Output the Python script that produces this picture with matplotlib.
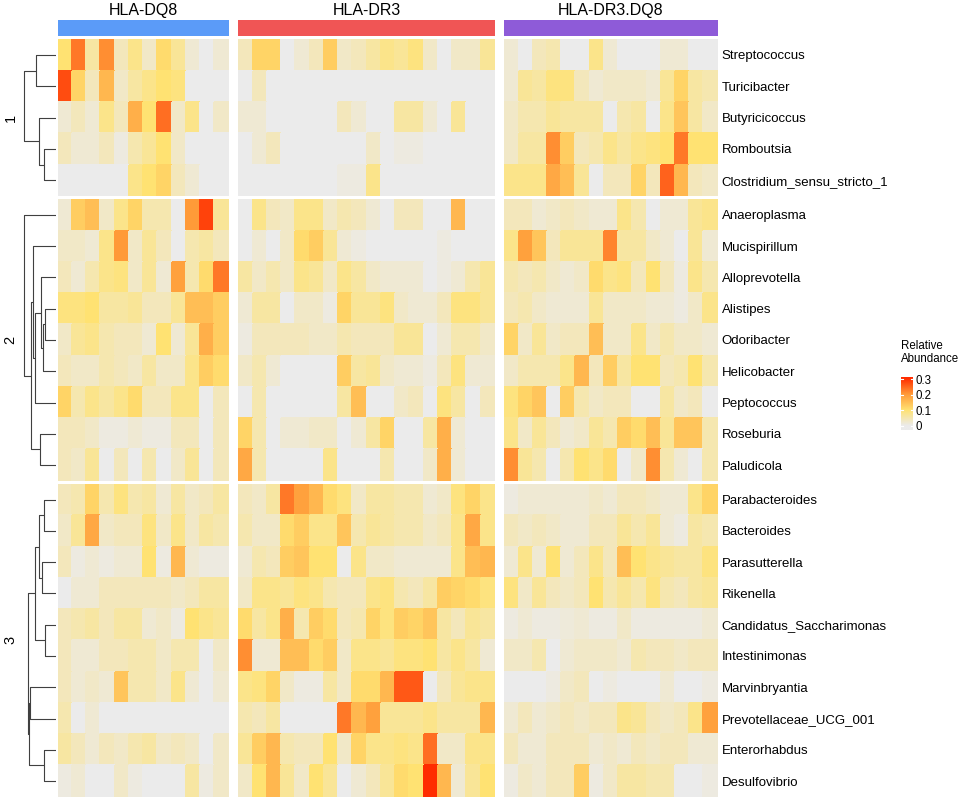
import numpy as np
import matplotlib
matplotlib.use("Agg")
import matplotlib.pyplot as plt
from matplotlib.colors import LinearSegmentedColormap
from matplotlib import rcParams
rcParams['font.family'] = ['Liberation Sans', 'DejaVu Sans']

# ---- data -------------------------------------------------------------
groups = ["HLA-DQ8", "HLA-DR3", "HLA-DR3.DQ8"]
group_colors = ["#5B9BF8", "#F05555", "#8E5BD8"]

species = ["Streptococcus", "Turicibacter", "Butyricicoccus", "Romboutsia",
           "Clostridium_sensu_stricto_1",
           "Anaeroplasma", "Mucispirillum", "Alloprevotella", "Alistipes",
           "Odoribacter", "Helicobacter", "Peptococcus", "Roseburia", "Paludicola",
           "Parabacteroides", "Bacteroides", "Parasutterella", "Rikenella",
           "Candidatus_Saccharimonas", "Intestinimonas", "Marvinbryantia",
           "Prevotellaceae_UCG_001", "Enterorhabdus", "Desulfovibrio"]
row_split = [5, 9, 10]
split_labels = ["1", "2", "3"]

dq8 = [
    [0.10, 0.23, 0.06, 0.21, 0.04, 0.08, 0.03, 0.11, 0.07, 0.02, 0.00, 0.02],
    [0.27, 0.12, 0.04, 0.16, 0.03, 0.06, 0.08, 0.10, 0.09, 0.00, 0.00, 0.00],
    [0.02, 0.04, 0.02, 0.08, 0.04, 0.17, 0.10, 0.24, 0.03, 0.08, 0.00, 0.03],
    [0.04, 0.02, 0.02, 0.04, 0.01, 0.05, 0.07, 0.10, 0.03, 0.00, 0.00, 0.00],
    [0.00, 0.00, 0.00, 0.00, 0.00, 0.08, 0.10, 0.12, 0.04, 0.02, 0.00, 0.00],
    [0.02, 0.13, 0.15, 0.03, 0.08, 0.12, 0.05, 0.05, 0.00, 0.20, 0.28, 0.07],
    [0.03, 0.03, 0.02, 0.08, 0.20, 0.03, 0.07, 0.04, 0.00, 0.05, 0.06, 0.04],
    [0.04, 0.02, 0.05, 0.08, 0.09, 0.03, 0.07, 0.02, 0.19, 0.05, 0.11, 0.23],
    [0.09, 0.09, 0.10, 0.06, 0.06, 0.07, 0.04, 0.04, 0.07, 0.15, 0.15, 0.13],
    [0.03, 0.07, 0.08, 0.05, 0.04, 0.04, 0.02, 0.10, 0.02, 0.07, 0.17, 0.13],
    [0.04, 0.03, 0.03, 0.05, 0.04, 0.03, 0.06, 0.03, 0.03, 0.08, 0.13, 0.11],
    [0.12, 0.05, 0.08, 0.06, 0.08, 0.11, 0.04, 0.04, 0.08, 0.08, 0.00, 0.04],
    [0.04, 0.04, 0.03, 0.01, 0.01, 0.02, 0.01, 0.01, 0.04, 0.04, 0.00, 0.04],
    [0.04, 0.03, 0.07, 0.00, 0.04, 0.00, 0.05, 0.00, 0.03, 0.07, 0.00, 0.04],
    [0.04, 0.05, 0.12, 0.05, 0.09, 0.05, 0.06, 0.02, 0.06, 0.03, 0.04, 0.06],
    [0.03, 0.07, 0.18, 0.03, 0.04, 0.04, 0.09, 0.03, 0.08, 0.03, 0.06, 0.05],
    [0.04, 0.01, 0.02, 0.01, 0.02, 0.02, 0.10, 0.01, 0.16, 0.02, 0.01, 0.01],
    [0.00, 0.02, 0.02, 0.04, 0.04, 0.04, 0.04, 0.04, 0.03, 0.04, 0.06, 0.06],
    [0.04, 0.05, 0.06, 0.04, 0.06, 0.06, 0.02, 0.03, 0.01, 0.10, 0.08, 0.07],
    [0.04, 0.02, 0.02, 0.04, 0.04, 0.05, 0.05, 0.03, 0.05, 0.05, 0.00, 0.03],
    [0.04, 0.02, 0.03, 0.02, 0.14, 0.05, 0.05, 0.03, 0.08, 0.02, 0.00, 0.02],
    [0.05, 0.00, 0.02, 0.00, 0.00, 0.00, 0.00, 0.00, 0.00, 0.00, 0.00, 0.00],
    [0.06, 0.04, 0.02, 0.04, 0.03, 0.05, 0.06, 0.03, 0.04, 0.03, 0.00, 0.03],
    [0.01, 0.02, 0.00, 0.00, 0.03, 0.01, 0.00, 0.00, 0.00, 0.06, 0.01, 0.03],
]

dr3 = [
    [0.04, 0.12, 0.12, 0.00, 0.02, 0.04, 0.13, 0.03, 0.04, 0.06, 0.08, 0.07, 0.09, 0.03, 0.00, 0.03, 0.03, 0.07],
    [0.00, 0.04, 0.00, 0.00, 0.00, 0.00, 0.00, 0.00, 0.00, 0.00, 0.00, 0.00, 0.00, 0.00, 0.00, 0.00, 0.00, 0.00],
    [0.02, 0.02, 0.00, 0.00, 0.00, 0.00, 0.00, 0.04, 0.02, 0.00, 0.00, 0.06, 0.06, 0.02, 0.00, 0.07, 0.00, 0.00],
    [0.00, 0.02, 0.04, 0.00, 0.00, 0.00, 0.00, 0.00, 0.00, 0.03, 0.00, 0.01, 0.01, 0.00, 0.00, 0.00, 0.00, 0.00],
    [0.00, 0.00, 0.00, 0.00, 0.00, 0.00, 0.00, 0.01, 0.01, 0.08, 0.00, 0.00, 0.00, 0.00, 0.00, 0.00, 0.00, 0.00],
    [0.00, 0.08, 0.04, 0.03, 0.08, 0.08, 0.03, 0.05, 0.04, 0.02, 0.00, 0.04, 0.04, 0.00, 0.00, 0.16, 0.00, 0.00],
    [0.00, 0.02, 0.00, 0.03, 0.11, 0.13, 0.07, 0.02, 0.01, 0.00, 0.00, 0.00, 0.00, 0.00, 0.01, 0.00, 0.00, 0.00],
    [0.06, 0.03, 0.05, 0.03, 0.08, 0.07, 0.03, 0.08, 0.06, 0.03, 0.02, 0.02, 0.02, 0.00, 0.01, 0.02, 0.05, 0.07],
    [0.02, 0.06, 0.06, 0.00, 0.03, 0.03, 0.01, 0.12, 0.07, 0.07, 0.09, 0.03, 0.02, 0.02, 0.04, 0.09, 0.09, 0.07],
    [0.01, 0.04, 0.04, 0.04, 0.04, 0.03, 0.03, 0.05, 0.04, 0.04, 0.04, 0.07, 0.07, 0.00, 0.02, 0.05, 0.05, 0.03],
    [0.03, 0.05, 0.02, 0.00, 0.00, 0.00, 0.00, 0.13, 0.06, 0.07, 0.03, 0.02, 0.02, 0.01, 0.04, 0.09, 0.02, 0.02],
    [0.00, 0.05, 0.00, 0.00, 0.00, 0.00, 0.00, 0.06, 0.15, 0.00, 0.00, 0.03, 0.04, 0.00, 0.09, 0.06, 0.00, 0.04],
    [0.12, 0.05, 0.00, 0.02, 0.02, 0.03, 0.03, 0.00, 0.02, 0.06, 0.12, 0.00, 0.00, 0.06, 0.17, 0.02, 0.00, 0.00],
    [0.18, 0.05, 0.00, 0.00, 0.00, 0.00, 0.08, 0.00, 0.00, 0.00, 0.05, 0.00, 0.00, 0.03, 0.17, 0.02, 0.00, 0.00],
    [0.04, 0.03, 0.06, 0.23, 0.19, 0.16, 0.11, 0.09, 0.03, 0.06, 0.06, 0.05, 0.05, 0.02, 0.03, 0.09, 0.12, 0.08],
    [0.05, 0.03, 0.03, 0.11, 0.13, 0.08, 0.08, 0.14, 0.05, 0.07, 0.06, 0.05, 0.05, 0.03, 0.04, 0.08, 0.18, 0.08],
    [0.02, 0.05, 0.04, 0.13, 0.14, 0.10, 0.10, 0.00, 0.08, 0.03, 0.03, 0.02, 0.02, 0.02, 0.02, 0.08, 0.15, 0.16],
    [0.03, 0.08, 0.08, 0.07, 0.09, 0.08, 0.05, 0.04, 0.04, 0.08, 0.09, 0.05, 0.04, 0.06, 0.13, 0.12, 0.11, 0.09],
    [0.11, 0.06, 0.08, 0.17, 0.05, 0.13, 0.11, 0.04, 0.05, 0.12, 0.09, 0.13, 0.12, 0.14, 0.06, 0.04, 0.07, 0.06],
    [0.21, 0.02, 0.02, 0.15, 0.15, 0.11, 0.13, 0.03, 0.08, 0.08, 0.07, 0.09, 0.09, 0.10, 0.06, 0.08, 0.06, 0.02],
    [0.08, 0.09, 0.12, 0.03, 0.01, 0.01, 0.06, 0.03, 0.11, 0.11, 0.16, 0.26, 0.26, 0.00, 0.04, 0.07, 0.08, 0.08],
    [0.05, 0.04, 0.06, 0.00, 0.00, 0.00, 0.00, 0.23, 0.16, 0.19, 0.07, 0.07, 0.07, 0.08, 0.06, 0.06, 0.06, 0.16],
    [0.07, 0.13, 0.16, 0.05, 0.04, 0.04, 0.10, 0.03, 0.12, 0.08, 0.08, 0.09, 0.08, 0.24, 0.03, 0.03, 0.08, 0.08],
    [0.03, 0.10, 0.16, 0.07, 0.03, 0.10, 0.07, 0.00, 0.02, 0.04, 0.07, 0.11, 0.10, 0.30, 0.16, 0.02, 0.07, 0.10],
]

dr3dq8 = [
    [0.02, 0.00, 0.04, 0.05, 0.00, 0.00, 0.08, 0.02, 0.00, 0.00, 0.00, 0.02, 0.02, 0.00, 0.00],
    [0.02, 0.07, 0.06, 0.09, 0.09, 0.04, 0.02, 0.03, 0.03, 0.03, 0.02, 0.07, 0.12, 0.06, 0.05],
    [0.03, 0.05, 0.05, 0.07, 0.06, 0.06, 0.06, 0.00, 0.05, 0.06, 0.00, 0.08, 0.14, 0.06, 0.03],
    [0.03, 0.06, 0.06, 0.21, 0.13, 0.04, 0.05, 0.08, 0.06, 0.08, 0.09, 0.10, 0.23, 0.10, 0.10],
    [0.08, 0.08, 0.08, 0.18, 0.15, 0.07, 0.00, 0.04, 0.04, 0.12, 0.04, 0.25, 0.16, 0.04, 0.03],
    [0.04, 0.04, 0.02, 0.03, 0.04, 0.03, 0.02, 0.02, 0.08, 0.05, 0.00, 0.02, 0.02, 0.07, 0.08],
    [0.08, 0.19, 0.14, 0.04, 0.07, 0.07, 0.07, 0.22, 0.06, 0.06, 0.03, 0.02, 0.00, 0.07, 0.02],
    [0.05, 0.04, 0.05, 0.03, 0.02, 0.03, 0.11, 0.08, 0.09, 0.04, 0.10, 0.04, 0.01, 0.08, 0.05],
    [0.04, 0.05, 0.03, 0.02, 0.02, 0.02, 0.07, 0.03, 0.03, 0.03, 0.02, 0.02, 0.01, 0.03, 0.08],
    [0.12, 0.03, 0.07, 0.03, 0.04, 0.04, 0.15, 0.03, 0.03, 0.08, 0.03, 0.05, 0.03, 0.03, 0.02],
    [0.03, 0.05, 0.05, 0.05, 0.08, 0.16, 0.04, 0.13, 0.06, 0.10, 0.10, 0.04, 0.05, 0.10, 0.05],
    [0.09, 0.12, 0.14, 0.00, 0.13, 0.05, 0.03, 0.04, 0.04, 0.00, 0.00, 0.06, 0.03, 0.04, 0.00],
    [0.08, 0.03, 0.07, 0.04, 0.02, 0.03, 0.07, 0.05, 0.13, 0.11, 0.15, 0.07, 0.14, 0.14, 0.05],
    [0.21, 0.07, 0.05, 0.00, 0.05, 0.10, 0.08, 0.11, 0.00, 0.03, 0.21, 0.05, 0.02, 0.00, 0.05],
    [0.01, 0.02, 0.02, 0.02, 0.02, 0.02, 0.03, 0.02, 0.04, 0.04, 0.03, 0.02, 0.02, 0.08, 0.12],
    [0.04, 0.03, 0.04, 0.03, 0.02, 0.02, 0.04, 0.04, 0.07, 0.05, 0.07, 0.02, 0.01, 0.06, 0.05],
    [0.02, 0.08, 0.02, 0.10, 0.02, 0.04, 0.08, 0.04, 0.15, 0.10, 0.08, 0.07, 0.06, 0.06, 0.09],
    [0.09, 0.03, 0.07, 0.04, 0.03, 0.04, 0.10, 0.05, 0.07, 0.05, 0.09, 0.05, 0.04, 0.06, 0.07],
    [0.01, 0.02, 0.01, 0.01, 0.015, 0.02, 0.01, 0.01, 0.03, 0.01, 0.01, 0.01, 0.01, 0.01, 0.02],
    [0.03, 0.03, 0.05, 0.00, 0.02, 0.03, 0.03, 0.03, 0.02, 0.05, 0.04, 0.04, 0.03, 0.04, 0.04],
    [0.00, 0.00, 0.00, 0.01, 0.03, 0.04, 0.00, 0.01, 0.00, 0.00, 0.00, 0.02, 0.00, 0.00, 0.01],
    [0.02, 0.04, 0.02, 0.03, 0.04, 0.03, 0.04, 0.04, 0.08, 0.07, 0.04, 0.03, 0.04, 0.08, 0.19],
    [0.04, 0.02, 0.02, 0.04, 0.04, 0.04, 0.02, 0.03, 0.02, 0.04, 0.03, 0.04, 0.04, 0.02, 0.02],
    [0.01, 0.03, 0.02, 0.04, 0.04, 0.13, 0.01, 0.03, 0.06, 0.06, 0.05, 0.05, 0.00, 0.00, 0.01],
]

# row dendrograms per slice: (node_a, node_b, height); new nodes numbered after leaves
dendro_1 = [(0, 1, 20.0), (3, 4, 12.0), (2, 6, 17.0), (5, 7, 32.0)]
dendro_2 = [(3, 4, 11.0), (9, 5, 13.3), (2, 10, 15.0), (11, 6, 20.7),
            (1, 12, 22.7), (7, 8, 16.0), (13, 14, 25.0), (0, 15, 31.7)]
dendro_3 = [(0, 1, 12.3), (2, 3, 14.3), (10, 11, 16.7), (4, 5, 11.0),
            (12, 13, 20.7), (6, 7, 26.0), (8, 9, 12.3), (15, 16, 27.3), (14, 17, 28.3)]
dendros = [dendro_1, dendro_2, dendro_3]

legend_ticks = [0, 0.1, 0.2, 0.3]

# ---- layout (pixels) ------------------------------------------------
W, H = 962, 800
panel_x = [(57.7, 228.7), (238.3, 495.0), (504.3, 717.7)]
slice_y = [(39.3, 196.0), (199.3, 480.7), (484.0, 796.7)]
bar_y = (20.0, 36.0)

cmap = LinearSegmentedColormap.from_list(
    "abund", [(0.0, "#EBEBEB"), (0.1 / 0.3, "#FFE272"),
              (0.2 / 0.3, "#FF9A38"), (1.0, "#FF2C00")])
cmap.set_under("#EBEBEB")


def px_axes(fig, x0, x1, y0, y1):
    return fig.add_axes([x0 / W, 1 - y1 / H, (x1 - x0) / W, (y1 - y0) / H])


def draw_dendro(ax, n, merges):
    pos = {i: i + 0.5 for i in range(n)}
    hgt = {i: 0.0 for i in range(n)}
    for k, (a, b, h) in enumerate(merges):
        ax.plot([hgt[a], h, h, hgt[b]], [pos[a], pos[a], pos[b], pos[b]],
                color="#404040", lw=0.8, solid_capstyle="butt")
        pos[n + k] = (pos[a] + pos[b]) / 2.
        hgt[n + k] = h


fig = plt.figure(figsize=(W / 100., H / 100.), dpi=100)

mats = [np.array(dq8), np.array(dr3), np.array(dr3dq8)]
starts = np.cumsum([0] + row_split)

for p, (mat, (x0, x1)) in enumerate(zip(mats, panel_x)):
    # column annotation bar
    axb = px_axes(fig, x0, x1, bar_y[0], bar_y[1])
    axb.set_facecolor(group_colors[p])
    axb.set_xticks([]); axb.set_yticks([])
    for s in axb.spines.values():
        s.set_visible(False)
    fig.text((x0 + x1) / 2. / W, 1 - 10.5 / H, groups[p], ha="center",
             va="center", fontsize=11.5)

    for g in range(3):
        y0, y1 = slice_y[g]
        sub = mat[starts[g]:starts[g + 1]]
        ax = px_axes(fig, x0, x1, y0, y1)
        ax.pcolormesh(np.arange(sub.shape[1] + 1), np.arange(sub.shape[0] + 1), sub,
                      cmap=cmap, vmin=0, vmax=0.3, shading="flat",
                      edgecolors="face", linewidth=0.3)
        ax.set_xlim(0, sub.shape[1])
        ax.set_ylim(sub.shape[0], 0)
        ax.set_xticks([])
        for s in ax.spines.values():
            s.set_visible(False)
        if p == 2:
            ax.yaxis.tick_right()
            ax.set_yticks(np.arange(sub.shape[0]) + 0.5)
            ax.set_yticklabels(species[starts[g]:starts[g + 1]], fontsize=9.5)
            ax.tick_params(axis="y", length=0, pad=3)
        else:
            ax.set_yticks([])

# dendrograms and slice labels
for g in range(3):
    y0, y1 = slice_y[g]
    axd = px_axes(fig, 0, 56, y0, y1)
    draw_dendro(axd, row_split[g], dendros[g])
    axd.set_xlim(56, 0)
    axd.set_ylim(row_split[g], 0)
    axd.axis("off")
    fig.text(10.5 / W, 1 - (y0 + y1) / 2. / H, split_labels[g], rotation=90,
             ha="center", va="center", fontsize=10.5)

# legend
fig.text(901 / W, 1 - 340 / H, "Relative\nAbundance", ha="left", va="top",
         fontsize=8.3, linespacing=1.1)
lo, hi = -0.026, 0.313
axl = px_axes(fig, 901, 913, 377, 430)
grad = np.linspace(lo, hi, 200).reshape(-1, 1)
axl.imshow(grad, cmap=cmap, vmin=0, vmax=0.3, aspect="auto", origin="lower",
           extent=[0, 1, lo, hi])
axl.set_xlim(0, 1)
axl.set_ylim(lo, hi)
for t in legend_ticks:
    axl.plot([0, 0.2], [t, t], color="white", lw=0.8)
    axl.plot([0.8, 1], [t, t], color="white", lw=0.8)
axl.yaxis.tick_right()
axl.set_yticks(legend_ticks)
axl.set_yticklabels([("%g" % t) for t in legend_ticks], fontsize=8.3)
axl.tick_params(axis="y", length=0, pad=2)
axl.set_xticks([])
for s in axl.spines.values():
    s.set_visible(False)

fig.savefig("out.png", dpi=100)
